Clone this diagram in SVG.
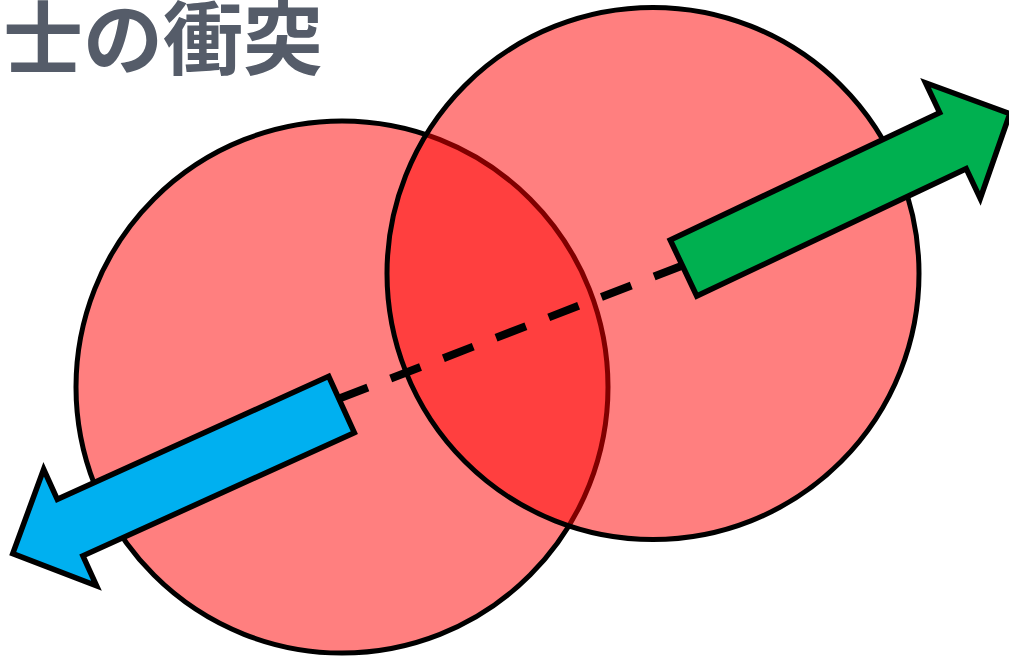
<svg xmlns="http://www.w3.org/2000/svg" width="1009" height="658" viewBox="0 0 1009 658">
  <style>
    .circle { fill: #ff0000; fill-opacity: 0.5; stroke: #000000; stroke-width: 5; }
    .arrow { stroke: #000000; stroke-width: 5.5; stroke-linejoin: miter; stroke-miterlimit: 10; }
    .dash { stroke: #000000; stroke-width: 8; stroke-dasharray: 32 24.5; fill: none; }
    .title { font-family: "Noto Sans CJK JP", "Noto Sans", sans-serif; font-weight: 700; font-size: 80px; fill: #555c69; }
  </style>
  <defs>
    <path id="arrowShape" d="M0,-31 L298,-31 L298,-64 L361,0 L298,64 L298,31 L0,31 Z"/>
  </defs>
  <g id="title">
    <text class="title" x="3" y="68">士の衝突</text>
  </g>
  <g id="circle-left">
    <circle class="circle" cx="342" cy="387" r="266"/>
  </g>
  <g id="circle-right">
    <circle class="circle" cx="653" cy="273.5" r="266"/>
  </g>
  <g id="connectors">
    <line class="dash" x1="338" y1="399" x2="684" y2="265"/>
  </g>
  <g id="arrow-blue">
    <use href="#arrowShape" class="arrow" fill="#00b0f0" transform="translate(341.5,404.5) rotate(155.6)"/>
  </g>
  <g id="arrow-green">
    <use href="#arrowShape" class="arrow" fill="#00b050" transform="translate(683.5,268) rotate(-25.3)"/>
  </g>
</svg>
